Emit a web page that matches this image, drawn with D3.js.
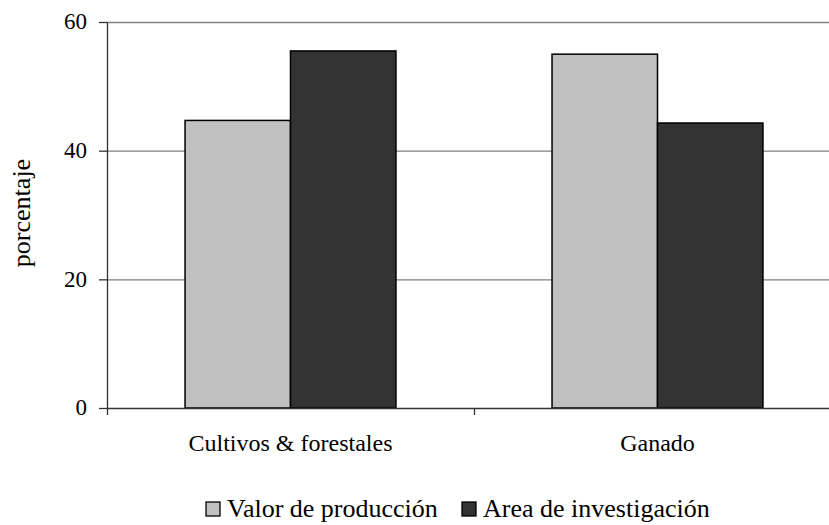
<!DOCTYPE html>
<html>
<head>
<meta charset="utf-8">
<script src="https://cdn.jsdelivr.net/npm/d3@7"></script>
<style>
body { margin: 0; background: #fff; }
</style>
</head>
<body>
<div id="chart"></div>
<script>
// data
var categories = ["Cultivos & forestales", "Ganado"];
var seriesNames = ["Valor de producción", "Area de investigación"];
var valorProduccion = [44.7, 55.0];
var areaInvestigacion = [55.5, 44.3];
var yTicks = [0, 20, 40, 60];
var colors = ["#c0c0c0", "#333333"];

var serif = "'Liberation Serif'";

var W = 829, H = 525;
var margin = {left: 107, top: 22, right: -12, bottom: 117},
    width = W - margin.left - margin.right,
    height = H - margin.top - margin.bottom;

var svg = d3.select("#chart").append("svg")
    .attr("width", W)
    .attr("height", H);

var g = svg.append("g")
    .attr("transform", "translate(" + margin.left + "," + margin.top + ")");

var x0 = d3.scaleBand().domain(categories).range([0, width]).paddingInner(0).paddingOuter(0);
var x1 = d3.scaleBand().domain(seriesNames).range([0, x0.bandwidth()]).paddingInner(0).paddingOuter(0.74);
var y = d3.scaleLinear().domain([0, 60]).range([height, 0]);

// grid lines
g.append("g").attr("class", "grid")
    .selectAll("line")
    .data(yTicks.filter(function (d) { return d > 0; }))
    .enter().append("line")
    .attr("x1", 0).attr("x2", width)
    .attr("y1", function (d) { return y(d) + 0.5; })
    .attr("y2", function (d) { return y(d) + 0.5; })
    .attr("stroke", "#808080")
    .attr("stroke-width", 1.3);

// bars
var table = categories.map(function (c, i) {
    return {cat: c, vals: [valorProduccion[i], areaInvestigacion[i]]};
});

var groups = g.selectAll(".grp")
    .data(table)
    .enter().append("g")
    .attr("class", "grp")
    .attr("transform", function (d) { return "translate(" + x0(d.cat) + ",0)"; });

groups.selectAll("rect")
    .data(function (d) { return d.vals.map(function (v, j) { return {s: seriesNames[j], v: v, j: j}; }); })
    .enter().append("rect")
    .attr("x", function (d) { return x1(d.s); })
    .attr("y", function (d) { return y(d.v); })
    .attr("width", x1.bandwidth())
    .attr("height", function (d) { return height - y(d.v); })
    .attr("fill", function (d) { return colors[d.j]; })
    .attr("stroke", "#000")
    .attr("stroke-width", 1.5);

// y axis
var yAxis = g.append("g")
    .call(d3.axisLeft(y).tickValues(yTicks).tickSize(8).tickSizeOuter(0).tickPadding(12));
yAxis.select(".domain").attr("stroke", "#333").attr("stroke-width", 1.3);
yAxis.selectAll(".tick line").attr("stroke", "#333").attr("stroke-width", 1.3);
yAxis.selectAll(".tick text")
    .style("font-family", serif)
    .style("font-size", "23px")
    .attr("fill", "#000")
    .attr("dy", "0.3em");

// x axis
var xAxis = g.append("g")
    .attr("transform", "translate(0," + height + ")")
    .call(d3.axisBottom(x0).tickSize(0).tickPadding(26));
xAxis.select(".domain").remove();
xAxis.append("line")
    .attr("x1", 0).attr("x2", width)
    .attr("y1", 0.5).attr("y2", 0.5)
    .attr("stroke", "#333").attr("stroke-width", 1.3);
xAxis.selectAll(".tick text")
    .style("font-family", serif)
    .style("font-size", "24px")
    .attr("fill", "#000");
xAxis.selectAll(".bnd")
    .data(categories)
    .enter().append("line")
    .attr("x1", function (d) { return x0(d) + 0.5; })
    .attr("x2", function (d) { return x0(d) + 0.5; })
    .attr("y1", 0).attr("y2", 7)
    .attr("stroke", "#333").attr("stroke-width", 1.3);

// y label
svg.append("text")
    .attr("transform", "translate(30," + (margin.top + height / 2 - 2) + ") rotate(-90)")
    .attr("text-anchor", "middle")
    .style("font-family", serif)
    .style("font-size", "26px")
    .text("porcentaje");

// legend
var legend = svg.append("g").attr("transform", "translate(206,517)");
var offsets = [0, 256];
seriesNames.forEach(function (s, i) {
    var lg = legend.append("g").attr("transform", "translate(" + offsets[i] + ",0)");
    lg.append("rect")
        .attr("x", 0).attr("y", -15)
        .attr("width", 14).attr("height", 14)
        .attr("fill", colors[i])
        .attr("stroke", "#000").attr("stroke-width", 1.3);
    lg.append("text")
        .attr("x", 21).attr("y", 0)
        .style("font-family", serif)
        .style("font-size", "26px")
        .text(s);
});
</script>
</body>
</html>
